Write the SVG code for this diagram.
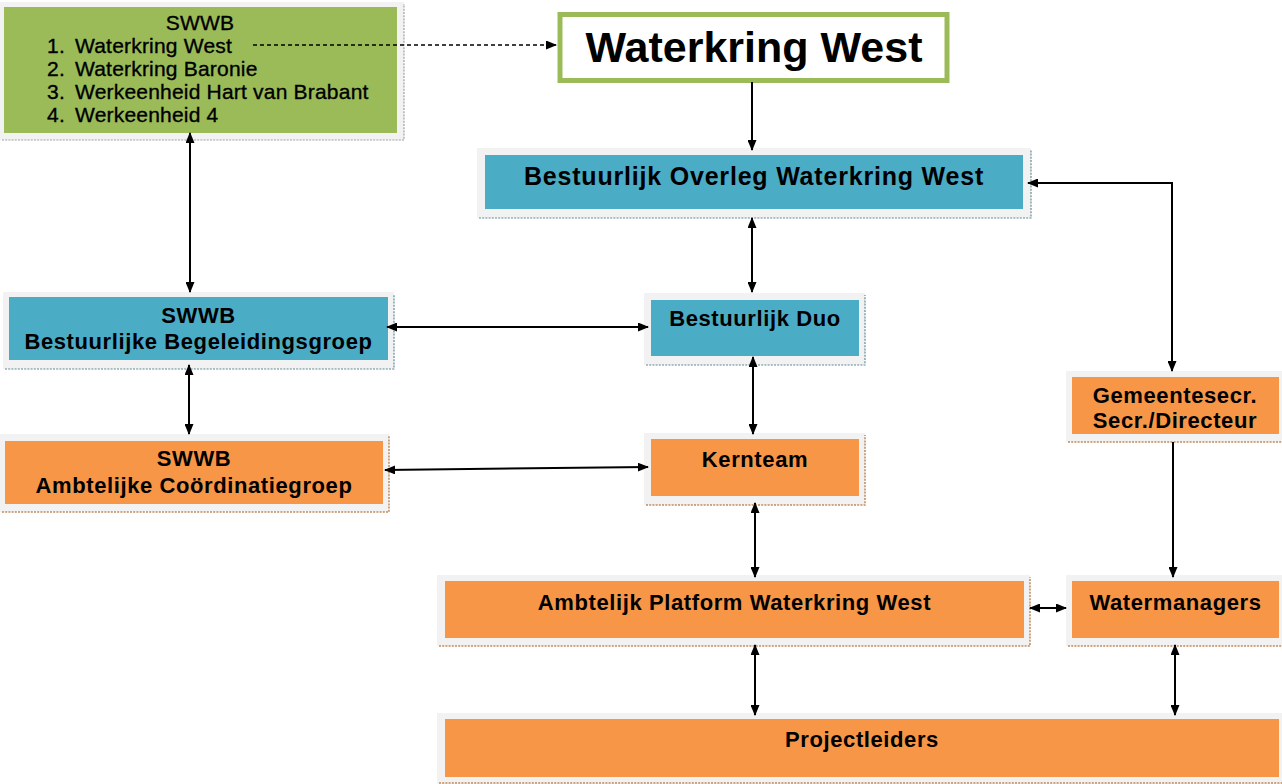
<svg xmlns="http://www.w3.org/2000/svg" width="1282" height="784" viewBox="0 0 1282 784">
<defs>
<marker id="ah" markerWidth="11" markerHeight="9" refX="10" refY="4.5" orient="auto-start-reverse" markerUnits="userSpaceOnUse">
<path d="M0,0 L11,4.5 L0,9 z" fill="#000"/>
</marker>
</defs>
<style>
.frame{fill:#f2f2f2}
.green{fill:#9bbb59}
.blue{fill:#4bacc6}
.orange{fill:#f79646}
.sh-b{fill:none;stroke:#5f8a96;stroke-width:1.2;stroke-dasharray:2 1.2}
.sh-o{fill:none;stroke:#c08a5c;stroke-width:1.5;stroke-dasharray:2 1.2}
.sh-g{fill:none;stroke:#a0a0a0;stroke-width:1.2;stroke-dasharray:2 1.2}
.lbl{font-family:"Liberation Sans",Arial,sans-serif;font-weight:bold;font-size:22px;letter-spacing:0.6px;fill:#000;text-anchor:middle}
.lst{font-family:"Liberation Sans",Arial,sans-serif;font-size:21px;letter-spacing:0.2px;fill:#000;stroke:#000;stroke-width:0.35}
.con{fill:none;stroke:#000;stroke-width:2}
</style>

<g id="swwb-list">
<rect class="frame" x="0" y="2" width="404" height="138"/>
<rect class="green" x="4" y="7" width="393" height="126"/>
<path class="sh-g" d="M2,140 H404 V4"/>
<text class="lst" x="200" y="30" text-anchor="middle">SWWB</text>
<text class="lst" x="47" y="53">1.</text><text class="lst" x="75" y="53">Waterkring West</text>
<text class="lst" x="47" y="76">2.</text><text class="lst" x="75" y="76">Waterkring Baronie</text>
<text class="lst" x="47" y="99">3.</text><text class="lst" x="75" y="99">Werkeenheid Hart van Brabant</text>
<text class="lst" x="47" y="122">4.</text><text class="lst" x="75" y="122">Werkeenheid 4</text>
</g>

<g id="waterkring-west">
<rect x="560" y="14.5" width="387" height="66" fill="#fff" stroke="#9bbb59" stroke-width="5"/>
<text class="lbl" x="754" y="62" style="font-size:43px;letter-spacing:0">Waterkring West</text>
</g>

<g id="bestuurlijk-overleg">
<rect class="frame" x="477" y="148" width="554" height="70"/>
<rect class="blue" x="485" y="155" width="538" height="54"/>
<path class="sh-b" d="M479,218 H1031 V150"/>
<text class="lbl" x="754" y="185" style="font-size:25px;letter-spacing:0.8px">Bestuurlijk Overleg Waterkring West</text>
</g>

<g id="bestuurlijke-begeleidingsgroep">
<rect class="frame" x="3" y="292" width="391" height="77"/>
<rect class="blue" x="9" y="297" width="379" height="63"/>
<path class="sh-b" d="M5,369 H394 V294"/>
<text class="lbl" x="198.5" y="323">SWWB</text>
<text class="lbl" x="198.5" y="349">Bestuurlijke Begeleidingsgroep</text>
</g>

<g id="ambtelijke-coordinatiegroep">
<rect class="frame" x="0" y="434" width="389" height="78"/>
<rect class="orange" x="5" y="441" width="378" height="63"/>
<path class="sh-o" d="M2,512 H389 V436"/>
<text class="lbl" x="194" y="466">SWWB</text>
<text class="lbl" x="194" y="493">Ambtelijke Coördinatiegroep</text>
</g>

<g id="bestuurlijk-duo">
<rect class="frame" x="644" y="293" width="221" height="72"/>
<rect class="blue" x="651" y="300" width="208" height="56"/>
<path class="sh-b" d="M646,365 H865 V295"/>
<text class="lbl" x="755" y="326">Bestuurlijk Duo</text>
</g>

<g id="kernteam">
<rect class="frame" x="644" y="433" width="221" height="72"/>
<rect class="orange" x="651" y="439" width="208" height="57"/>
<path class="sh-o" d="M646,505 H865 V435"/>
<text class="lbl" x="755" y="467">Kernteam</text>
</g>

<g id="gemeentesecr">
<rect class="frame" x="1066" y="371" width="216" height="71"/>
<rect class="orange" x="1072" y="377" width="207" height="57"/>
<path class="sh-o" d="M1068,442 H1282"/>
<text class="lbl" x="1175" y="403">Gemeentesecr.</text>
<text class="lbl" x="1175" y="428">Secr./Directeur</text>
</g>

<g id="ambtelijk-platform">
<rect class="frame" x="437" y="575" width="593" height="71"/>
<rect class="orange" x="445" y="581" width="579" height="57"/>
<path class="sh-o" d="M439,646 H1030 V577"/>
<text class="lbl" x="734.5" y="610">Ambtelijk Platform Waterkring West</text>
</g>

<g id="watermanagers">
<rect class="frame" x="1066" y="575" width="216" height="71"/>
<rect class="orange" x="1072" y="581" width="207" height="57"/>
<path class="sh-o" d="M1068,646 H1282"/>
<text class="lbl" x="1175.5" y="610">Watermanagers</text>
</g>

<g id="projectleiders">
<rect class="frame" x="437" y="713" width="845" height="71"/>
<rect class="orange" x="445" y="719" width="834" height="58"/>
<path class="sh-o" d="M439,783 H1282"/>
<text class="lbl" x="862" y="747">Projectleiders</text>
</g>

<g id="connectors">
<line x1="253" y1="45" x2="556" y2="45" stroke="#000" stroke-width="1.5" stroke-dasharray="4 3" marker-end="url(#ah)"/>
<line class="con" x1="752" y1="82" x2="752" y2="150" marker-end="url(#ah)"/>
<line class="con" x1="752" y1="218" x2="752" y2="292" marker-start="url(#ah)" marker-end="url(#ah)"/>
<line class="con" x1="753" y1="357" x2="753" y2="434" marker-start="url(#ah)" marker-end="url(#ah)"/>
<line class="con" x1="755" y1="503" x2="755" y2="577" marker-start="url(#ah)" marker-end="url(#ah)"/>
<line class="con" x1="755" y1="645" x2="755" y2="715" marker-start="url(#ah)" marker-end="url(#ah)"/>
<line class="con" x1="190" y1="133" x2="190" y2="292" marker-start="url(#ah)" marker-end="url(#ah)"/>
<line class="con" x1="189" y1="365" x2="189" y2="434" marker-start="url(#ah)" marker-end="url(#ah)"/>
<line class="con" x1="387" y1="327" x2="648" y2="327" stroke-width="1.5" marker-start="url(#ah)" marker-end="url(#ah)"/>
<line class="con" x1="385" y1="470" x2="648" y2="467" stroke-width="1.5" marker-start="url(#ah)" marker-end="url(#ah)"/>
<polyline class="con" points="1028,183 1172,183 1172,371" marker-start="url(#ah)" marker-end="url(#ah)"/>
<line class="con" x1="1173" y1="442" x2="1173" y2="577" marker-end="url(#ah)"/>
<line class="con" x1="1030" y1="608" x2="1066" y2="608" marker-start="url(#ah)" marker-end="url(#ah)"/>
<line class="con" x1="1175" y1="645" x2="1175" y2="715" marker-start="url(#ah)" marker-end="url(#ah)"/>
</g>
</svg>
